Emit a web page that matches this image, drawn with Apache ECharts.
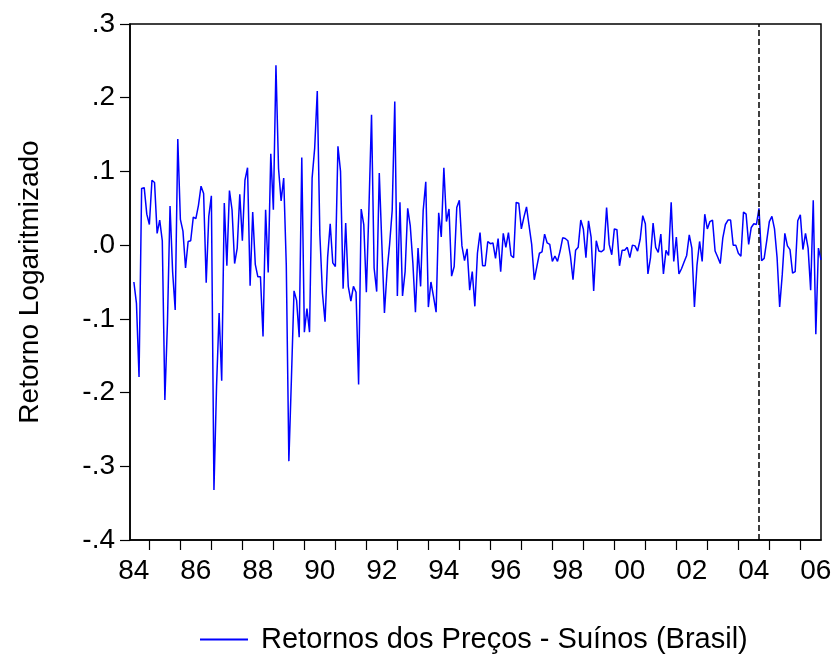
<!DOCTYPE html>
<html>
<head>
<meta charset="utf-8">
<script src="https://cdn.jsdelivr.net/npm/echarts@6/dist/echarts.min.js"></script>
<style>
  html, body { margin: 0; padding: 0; background: #fff; }
  #chart { width: 831px; height: 656px; }
</style>
</head>
<body>
<div id="chart"></div>
<script>
// Monthly log returns of hog prices in Brazil, first observation July 1984
const startYear = 1984;
const startMonth = 7;

const returns = [
  -0.050, -0.079, -0.179, 0.077, 0.078, 0.042, 0.028, 0.088, 0.085, 0.016,
  0.034, 0.006, -0.210, -0.105, 0.053, -0.036, -0.088, 0.144, 0.035, 0.019,
  -0.031, 0.005, 0.006, 0.038, 0.036, 0.054, 0.080, 0.070, -0.051, 0.039,
  0.067, -0.332, -0.192, -0.092, -0.184, 0.057, -0.028, 0.074, 0.048, -0.025,
  -0.004, 0.069, 0.006, 0.088, 0.105, -0.055, 0.045, -0.026, -0.043, -0.043,
  -0.124, 0.048, -0.037, 0.124, 0.048, 0.244, 0.104, 0.060, 0.091, -0.027,
  -0.293, -0.180, -0.062, -0.075, -0.125, 0.119, -0.118, -0.086, -0.118, 0.091,
  0.132, 0.209, 0.014, -0.065, -0.104, -0.017, 0.029, -0.024, -0.029, 0.134,
  0.100, -0.059, 0.030, -0.056, -0.076, -0.056, -0.064, -0.189, 0.049, 0.028,
  -0.064, 0.050, 0.177, -0.031, -0.063, 0.098, 0.001, -0.092, -0.036, 0.001,
  0.047, 0.195, -0.069, 0.058, -0.069, -0.036, 0.050, 0.026, -0.024, -0.091,
  -0.004, -0.056, 0.047, 0.086, -0.084, -0.050, -0.070, -0.091, 0.044, 0.011,
  0.105, 0.032, 0.049, -0.042, -0.029, 0.051, 0.061, -0.001, -0.021, -0.005,
  -0.061, -0.036, -0.083, -0.011, 0.017, -0.028, -0.028, 0.005, 0.002, 0.003,
  -0.018, 0.009, -0.036, 0.016, -0.003, 0.017, -0.014, -0.017, 0.058, 0.057,
  0.022, 0.038, 0.052, 0.026, 0.001, -0.047, -0.029, -0.011, -0.009, 0.015,
  0.003, 0.001, -0.022, -0.015, -0.022, -0.008, 0.010, 0.009, 0.006, -0.015,
  -0.047, -0.007, -0.003, 0.034, 0.022, -0.017, 0.033, 0.011, -0.062, 0.006,
  -0.008, -0.009, -0.006, 0.051, 0.001, -0.013, 0.022, 0.021, -0.028, -0.007,
  -0.007, -0.003, -0.017, 0.000, -0.001, -0.008, 0.008, 0.040, 0.029, -0.039,
  -0.017, 0.030, -0.003, -0.010, 0.015, -0.039, -0.007, -0.014, 0.058, -0.022,
  0.011, -0.039, -0.032, -0.023, -0.014, 0.014, -0.004, -0.084, -0.027, 0.005,
  -0.022, 0.042, 0.022, 0.032, 0.034, -0.008, -0.016, -0.025, 0.010, 0.028,
  0.034, 0.034, 0.000, 0.000, -0.011, -0.015, 0.045, 0.042, 0.001, 0.024,
  0.029, 0.028, 0.050, -0.021, -0.018, 0.006, 0.032, 0.039, 0.022, -0.017,
  -0.084, -0.040, 0.016, -0.001, -0.006, -0.038, -0.036, 0.033, 0.041, -0.006,
  0.016, -0.004, -0.061, 0.061, -0.121, -0.004, -0.020
];

// Year labels (two digits) centred on each labelled year, ticks at each January
const labelYears = [1984, 1986, 1988, 1990, 1992, 1994, 1996, 1998, 2000, 2002, 2004, 2006];
const tickYears = [1985, 1986, 1987, 1988, 1989, 1990, 1991, 1992, 1993, 1994, 1995,
                   1996, 1997, 1998, 1999, 2000, 2001, 2002, 2003, 2004, 2005, 2006];

// Dashed marker: September 2004
const breakYear = 2004;
const breakMonth = 9;

const seriesName = 'Retornos dos Preços - Suínos (Brasil)';
const yName = 'Retorno Logaritmizado';

const toYear = (y, m) => y + (m - 1) / 12;
const firstX = toYear(startYear, startMonth);
const points = returns.map((v, i) => [firstX + i / 12, v]);
const lastX = points[points.length - 1][0];

const font = "'Liberation Sans', Arial, sans-serif";
const lineBlue = '#0000ff';

const chart = echarts.init(document.getElementById('chart'), null, { renderer: 'canvas' });
chart.setOption({
  animation: false,
  backgroundColor: '#ffffff',
  grid: {
    left: 130, top: 24, right: 10, bottom: 116,
    show: true, borderColor: '#000', borderWidth: 1.5,
    containLabel: false,
    outerBoundsMode: 'none'
  },
  legend: {
    left: 195, top: 620,
    itemWidth: 48, itemHeight: 2,
    icon: 'rect',
    itemStyle: { color: lineBlue, borderWidth: 0 },
    textStyle: { fontFamily: font, fontSize: 29, color: '#000', padding: [0, 0, 0, 8] },
    data: [seriesName]
  },
  xAxis: {
    type: 'value',
    min: firstX - 1.5 / 12,
    max: lastX,
    axisLine: { show: true, onZero: false, lineStyle: { color: '#000', width: 1.5 } },
    axisTick: { show: true, inside: false, length: 10, customValues: tickYears, lineStyle: { color: '#000', width: 1.2 } },
    axisLabel: {
      show: true, margin: 17, customValues: labelYears.map(y => y + 0.5),
      formatter: v => String(Math.floor(v)).slice(2),
      fontFamily: font, fontSize: 28, color: '#000'
    },
    splitLine: { show: false }
  },
  yAxis: {
    type: 'value',
    min: -0.4, max: 0.3, interval: 0.1,
    name: yName,
    nameLocation: 'middle',
    nameGap: 86,
    nameTextStyle: { fontFamily: font, fontSize: 28, color: '#000' },
    axisLine: { show: true, onZero: false, lineStyle: { color: '#000', width: 1.5 } },
    axisTick: { show: true, inside: false, length: 10, lineStyle: { color: '#000', width: 1.2 } },
    axisLabel: {
      margin: 15,
      formatter: v => v.toFixed(1).replace('0.', '.'),
      fontFamily: font, fontSize: 28, color: '#000'
    },
    splitLine: { show: false }
  },
  series: [{
    name: seriesName,
    type: 'line',
    data: points,
    symbol: 'none',
    lineStyle: { color: lineBlue, width: 1.5 },
    itemStyle: { color: lineBlue },
    markLine: {
      silent: true,
      symbol: ['none', 'none'],
      label: { show: false },
      lineStyle: { color: '#000', type: [6, 3], width: 1.5 },
      data: [{ xAxis: toYear(breakYear, breakMonth) }]
    }
  }]
});
</script>
</body>
</html>
